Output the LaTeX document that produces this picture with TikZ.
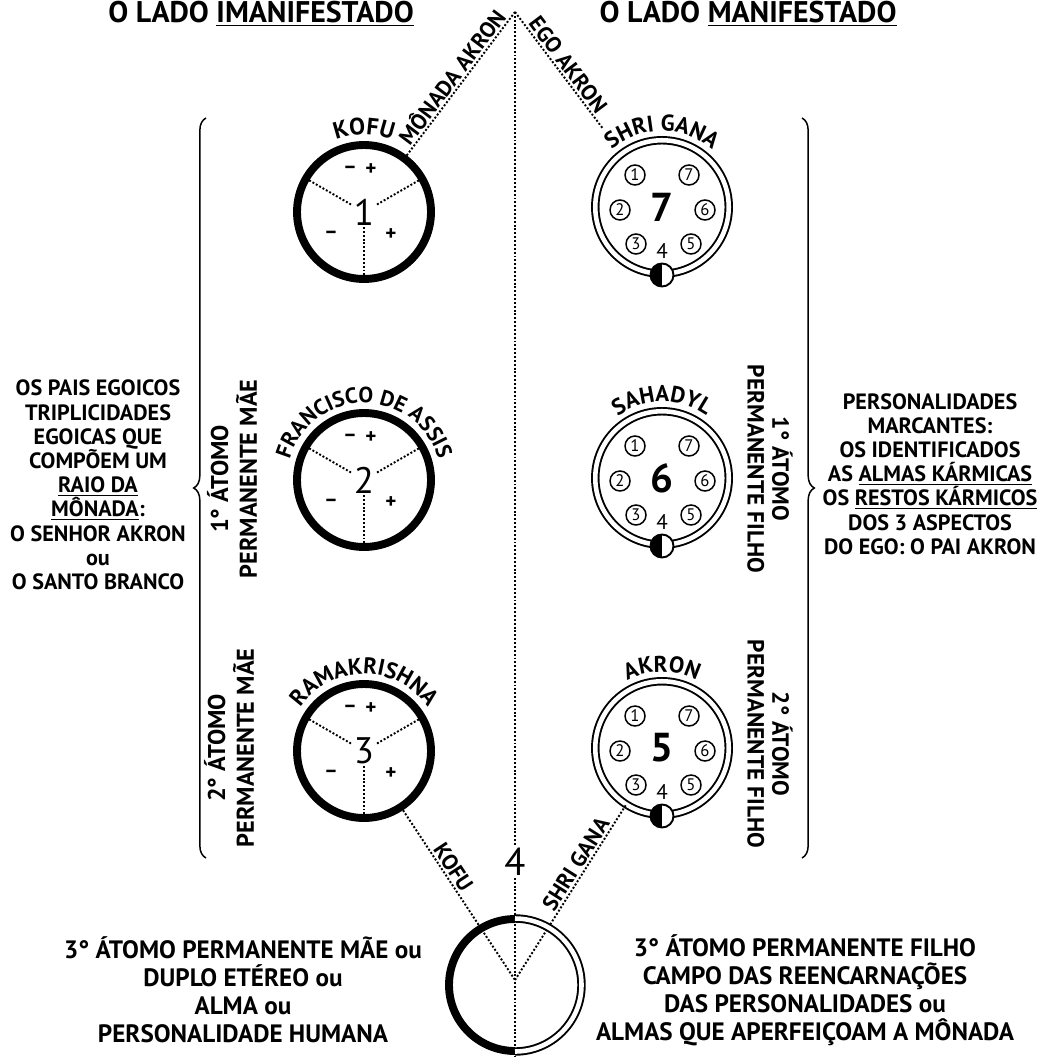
\documentclass[tikz,border=0pt]{standalone}
\usepackage{fontspec}
\setmainfont{PT Sans}
\usetikzlibrary{decorations.text, decorations.pathreplacing}

\tikzset{
  dots/.style={line width=1.1pt, dash pattern=on 1.1pt off 1.1pt},
  mother/.style={circle, draw, line width=4.5pt, inner sep=0pt, minimum size=2.68cm, font=\fontsize{21}{21}\selectfont},
  son/.style={circle, draw, double, line width=1.1pt, double distance=2.6pt, inner sep=0pt, minimum size=2.67cm, font=\fontsize{23}{23}\selectfont\bfseries},
  bead/.style={circle, draw, line width=0.85pt, inner sep=0pt, minimum size=0.4cm, font=\fontsize{9.5}{9.5}\selectfont},
  half/.style={circle, draw, line width=1.1pt, fill=white, inner sep=0pt, minimum size=0.46cm,
    path picture={\fill[black] (path picture bounding box.north west) rectangle (path picture bounding box.south);}},
  digit/.style={inner sep=0pt, font=\fontsize{12}{12}\selectfont},
  sign/.style={inner sep=0pt, font=\fontsize{12}{12}\selectfont\bfseries},
  title/.style={font=\fontsize{17}{20}\selectfont\bfseries},
  side/.style={align=center, font=\fontsize{12.6}{13.8}\selectfont\bfseries},
  lower/.style={align=center, font=\fontsize{14.3}{15.9}\selectfont\bfseries},
  leftup/.style={align=center, rotate=90, font=\fontsize{13.8}{16.4}\selectfont\bfseries},
  rightdown/.style={align=center, rotate=-90, font=\fontsize{13.3}{14.2}\selectfont\bfseries},
  wire/.style={sloped, above, inner sep=1pt, font=\fontsize{12.5}{12.5}\selectfont\bfseries},
  brace/.style={decorate, decoration={brace, amplitude=7pt}, line width=0.85pt},
}

\begin{document}
\begin{tikzpicture}[x=0.02cm, y=0.02cm]
\useasboundingbox (0,0) rectangle (1047,-1057);

% titles
\node[title] (iman) at (261,-14) {O LADO \underline{IMANIFESTADO}};
\node[title] (man) at (748,-14) {O LADO \underline{MANIFESTADO}};

\coordinate (apex) at (515,-12);
\coordinate (v) at (515,-980);
\coordinate (b) at (515,-985);
\coordinate (floor) at (515,-1057);

% left side: mother atoms
\foreach \m/\y/\n in {m1/212/1, m2/480/2, m3/751/3} {
  \node[mother] (\m) at (364,-\y) {\n};
  \foreach \a in {150,30,270}
    \draw[dots] (\m.center) ++(\a:15) -- ++(\a:51);
  \node[sign] at ([shift={(-14,42)}]\m.center) {–};
  \node[sign] at ([shift={(7,42)}]\m.center) {+};
  \node[sign] at ([shift={(-33,-23)}]\m.center) {–};
  \node[sign] at ([shift={(27,-23)}]\m.center) {+};
}

% right side: son atoms
\foreach \f/\y/\n in {f7/207/7, f6/478/6, f5/748/5} {
  \node[son] (\f) at (662,-\y) {\n};
  \foreach \k/\dx/\dy in {1/-27/32, 7/27/32, 2/-42/-3, 6/43/-3, 3/-26/-37, 5/29/-37}
    \node[bead] (\f-\k) at ([shift={(\dx,\dy)}]\f.center) {\k};
  \node[digit] at ([shift={(0,-44)}]\f.center) {4};
  \node[half] (\f-h) at ([shift={(0,-68)}]\f.center) {};
}

% names round the atoms
\path[decorate, decoration={text along path, text align=center,
  text={|\fontsize{13.5}{13.5}\selectfont\bfseries|KOFU}}]
  ([shift={(210:77)}]m1.center) arc[start angle=210, end angle=-30, radius=77];
\path[decorate, decoration={text along path, text align=center,
  text={|\fontsize{12.5}{12.5}\selectfont\bfseries|FRANCISCO DE ASSIS}}]
  ([shift={(210:77)}]m2.center) arc[start angle=210, end angle=-30, radius=77];
\path[decorate, decoration={text along path, text align=center,
  text={|\fontsize{13}{13}\selectfont\bfseries|RAMAKRISHNA}}]
  ([shift={(210:77)}]m3.center) arc[start angle=210, end angle=-30, radius=77];
\path[decorate, decoration={text along path, text align=center,
  text={|\fontsize{13}{13}\selectfont\bfseries|SHRI GANA}}]
  ([shift={(210:76)}]f7.center) arc[start angle=210, end angle=-30, radius=76];
\path[decorate, decoration={text along path, text align=center,
  text={|\fontsize{13}{13}\selectfont\bfseries|SAHADYL}}]
  ([shift={(210:76)}]f6.center) arc[start angle=210, end angle=-30, radius=76];
\path[decorate, decoration={text along path, text align=center,
  text={|\fontsize{13}{13}\selectfont\bfseries|AKRON}}]
  ([shift={(210:76)}]f5.center) arc[start angle=210, end angle=-30, radius=76];

% dotted wires
\node[inner sep=1pt, font=\fontsize{22}{22}\selectfont] (four) at (515,-862) {4};
\draw[dots] (apex) -- (four) -- (floor);
\draw[dots] (m1) -- node[wire, pos=0.5] {MÔNADA AKRON} (apex);
\draw[dots, shorten >=0.6cm] (apex) -- node[wire, pos=0.42] {EGO AKRON} (f7);
\draw[dots] (m3) -- node[wire, pos=0.37] {KOFU} (v);
\draw[dots] (v) -- node[wire, pos=0.63] {SHRI GANA} (f5);

% third atom
\draw[line width=4.5pt] (b) ++(90:66) arc[start angle=90, end angle=270, radius=66];
\draw[double, line width=1.1pt, double distance=2.6pt] (b) ++(90:66.5) arc[start angle=90, end angle=-90, radius=66.5];

% braces
\draw[brace] (206,-858) -- (206,-118);
\draw[brace] (802,-118) -- (802,-858);

% texts
\node[leftup] (mae1) at (232,-479) {1° ÁTOMO\\PERMANENTE MÃE};
\node[leftup] (mae2) at (229,-748) {2° ÁTOMO\\PERMANENTE MÃE};
\node[rightdown] (filho1) at (770,-469) {1° ÁTOMO\\PERMANENTE FILHO};
\node[rightdown] (filho2) at (770,-744) {2° ÁTOMO\\PERMANENTE FILHO};

\node[side] (pais) at (98,-485) {OS PAIS EGOICOS\\TRIPLICIDADES\\EGOICAS QUE\\COMPÕEM UM\\\underline{RAIO DA}\\\underline{MÔNADA}:\\O SENHOR AKRON\\ou\\O SANTO BRANCO};
\node[side] (marcantes) at (930,-474) {PERSONALIDADES\\MARCANTES:\\OS IDENTIFICADOS\\AS \underline{ALMAS KÁRMICAS}\\OS \underline{RESTOS KÁRMICOS}\\DOS 3 ASPECTOS\\DO EGO: O PAI AKRON};

\node[lower] (maetxt) at (243,-990) {3° ÁTOMO PERMANENTE MÃE ou\\DUPLO ETÉREO ou\\ALMA ou\\PERSONALIDADE HUMANA};
\node[lower] (filhotxt) at (805,-990) {3° ÁTOMO PERMANENTE FILHO\\CAMPO DAS REENCARNAÇÕES\\DAS PERSONALIDADES ou\\ALMAS QUE APERFEIÇOAM A MÔNADA};
\end{tikzpicture}
\end{document}
